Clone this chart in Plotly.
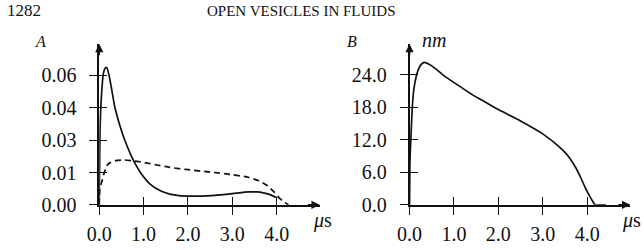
import plotly.graph_objects as go

# ---------------- data ----------------
# Panel A: solid curve
a_solid_t = [0, 0.02, 0.06, 0.095, 0.13, 0.17, 0.22, 0.28, 0.35, 0.46, 0.575, 0.71, 0.78, 0.94, 1.16, 1.39, 1.59,
             1.80, 2.00, 2.30, 2.60, 3.00, 3.36, 3.55, 3.70, 3.80, 3.90, 4.00]
a_solid_v = [0, 0.036, 0.0537, 0.0610, 0.0632, 0.0637, 0.0602, 0.0537, 0.0455, 0.0372, 0.0301, 0.0233, 0.0203,
             0.0147, 0.0094, 0.0064, 0.0050, 0.0043, 0.0041, 0.0041, 0.0044, 0.0052, 0.0060, 0.0060, 0.0056, 0.0051,
             0.0043, 0.0034]
# Panel A: dashed curve
a_dash_t = [0, 0.01, 0.03, 0.06, 0.10, 0.17, 0.25, 0.35, 0.57, 0.80, 1.02, 1.30, 1.59, 2.00, 2.50, 3.00, 3.36,
            3.60, 3.80, 3.95, 4.05, 4.15, 4.22, 4.27]
a_dash_v = [0, 0.0063, 0.0090, 0.0108, 0.0140, 0.0182, 0.0196, 0.0204, 0.0208, 0.0203, 0.0196, 0.0185, 0.0174,
            0.0163, 0.0152, 0.0140, 0.0128, 0.0112, 0.0088, 0.0058, 0.0034, 0.0016, 0.0006, 0.0]
# Panel B
b_t = [0, 0.005, 0.01, 0.02, 0.035, 0.05, 0.07, 0.10, 0.15, 0.20, 0.25, 0.33, 0.45, 0.59, 0.75, 0.96, 1.20, 1.40,
       1.70, 2.00, 2.50, 3.00, 3.44, 3.60, 3.74, 3.85, 3.96, 4.05, 4.12, 4.18, 4.30, 4.42]
b_v = [0, 4.5, 8.0, 10.5, 13.1, 16.0, 19.0, 21.5, 23.7, 25.0, 25.8, 26.3, 25.9, 25.1, 24.0, 22.8, 21.5, 20.4,
       19.0, 17.6, 15.5, 13.1, 10.2, 8.7, 6.9, 5.1, 3.1, 1.7, 0.7, 0.0, 0.0, 0.0]

x_ticks = [0, 1, 2, 3, 4]
x_ticktext = ["0.0", "1.0", "2.0", "3.0", "4.0"]
a_yticks = [0, 0.015, 0.03, 0.045, 0.06]
a_yticktext = ["0.00", "0.01", "0.03", "0.04", "0.06"]
b_yticks = [0, 6, 12, 18, 24]
b_yticktext = ["0.0", "6.0", "12.0", "18.0", "24.0"]

# ---------------- figure ----------------
W, H = 644, 250
FONT = "Liberation Serif"
BLACK = "#111111"

fig = go.Figure()
fig.add_trace(go.Scatter(x=a_solid_t, y=a_solid_v, mode="lines", xaxis="x", yaxis="y",
                         line=dict(color=BLACK, width=1.7, shape="spline", smoothing=0.5), showlegend=False))
fig.add_trace(go.Scatter(x=a_dash_t, y=a_dash_v, mode="lines", xaxis="x", yaxis="y",
                         line=dict(color=BLACK, width=1.7, dash="6px,4px", shape="spline", smoothing=0.5),
                         showlegend=False))
fig.add_trace(go.Scatter(x=b_t, y=b_v, mode="lines", xaxis="x2", yaxis="y2",
                         line=dict(color=BLACK, width=1.7, shape="spline", smoothing=0.6), showlegend=False))
# empty traces so that the overlay axes (inner halves of the tick marks) are drawn
fig.add_trace(go.Scatter(x=[], y=[], xaxis="x3", yaxis="y3", showlegend=False, hoverinfo="skip"))
fig.add_trace(go.Scatter(x=[], y=[], xaxis="x4", yaxis="y4", showlegend=False, hoverinfo="skip"))


def px_x(p):
    return p / W


def px_y(p):
    return 1 - p / H


a_xr = [0, 4.97]
a_yr = [0, 0.0746]
b_xr = [0, 4.97]
b_yr = [0, 29.7]

a_dom_x = [px_x(88), px_x(313)]
b_dom_x = [px_x(404.7), px_x(630)]
dom_y = [px_y(214.3), px_y(46)]

tickfont = dict(family=FONT, size=20, color=BLACK)
common_x = dict(tickmode="array", tickvals=x_ticks, ticktext=x_ticktext, showgrid=False, zeroline=False,
                showline=True, linecolor=BLACK, linewidth=1.6, ticks="outside", ticklen=8, tickwidth=1.2,
                tickcolor=BLACK, tickfont=tickfont, fixedrange=True, ticklabelstandoff=2)
common_y = dict(tickmode="array", showgrid=False, zeroline=False, showline=True, linecolor=BLACK, linewidth=1.6,
                ticks="outside", ticklen=8, tickwidth=1.2, tickcolor=BLACK, tickfont=tickfont, fixedrange=True,
                ticklabelstandoff=9)

inner = dict(showgrid=False, zeroline=False, showline=False, ticks="inside", ticklen=8, tickwidth=1.2,
             tickcolor=BLACK, showticklabels=False, tickmode="array", fixedrange=True)

fig.update_layout(
    width=W, height=H, margin=dict(l=0, r=0, t=0, b=0), autosize=False,
    paper_bgcolor="white", plot_bgcolor="rgba(0,0,0,0)",
    xaxis=dict(domain=a_dom_x, range=a_xr, anchor="y", **common_x),
    yaxis=dict(domain=dom_y, range=a_yr, anchor="x", tickvals=a_yticks, ticktext=a_yticktext, **common_y),
    xaxis2=dict(domain=b_dom_x, range=b_xr, anchor="y2", **common_x),
    yaxis2=dict(domain=dom_y, range=b_yr, anchor="x2", tickvals=b_yticks, ticktext=b_yticktext, **common_y),
    xaxis3=dict(domain=a_dom_x, range=a_xr, anchor="y3", overlaying="x", tickvals=x_ticks, **inner),
    yaxis3=dict(domain=dom_y, range=a_yr, anchor="x3", overlaying="y", tickvals=a_yticks, **inner),
    xaxis4=dict(domain=b_dom_x, range=b_xr, anchor="y4", overlaying="x2", tickvals=x_ticks, **inner),
    yaxis4=dict(domain=dom_y, range=b_yr, anchor="x4", overlaying="y2", tickvals=b_yticks, **inner),
)

# arrowheads at the ends of the axes
for xr_, yr_, xa, ya in [(a_xr, a_yr, "x", "y"), (b_xr, b_yr, "x2", "y2")]:
    fig.add_annotation(x=xr_[1], y=0, ax=xr_[1] - 0.3, ay=0, xref=xa, yref=ya, axref=xa, ayref=ya,
                       showarrow=True, arrowhead=2, arrowsize=1.1, arrowwidth=1.5, arrowcolor=BLACK, text="")
    fig.add_annotation(x=0, y=yr_[1], ax=0, ay=yr_[1] * 0.92, xref=xa, yref=ya, axref=xa, ayref=ya,
                       showarrow=True, arrowhead=2, arrowsize=1.1, arrowwidth=1.5, arrowcolor=BLACK, text="")

texts = [
    ("1282", -8, 11, "left", 17),
    ("OPEN VESICLES IN FLUIDS", 294, 11, "center", 15),
    ("<i>A</i>", 28, 43.5, "center", 16),
    ("<i>B</i>", 346, 43.5, "center", 16),
    ("<i>nm</i>", 430, 42, "center", 20),
    ("<i>μ</i>s", 316, 231, "center", 20),
    ("<i>μ</i>s", 631, 231, "center", 20),
]
for t, x, y, anc, size in texts:
    fig.add_annotation(text=t, x=px_x(x), y=px_y(y), xref="paper", yref="paper", xanchor=anc, yanchor="middle",
                       showarrow=False, font=dict(family=FONT, size=size, color=BLACK))

fig.write_html("out.html")
